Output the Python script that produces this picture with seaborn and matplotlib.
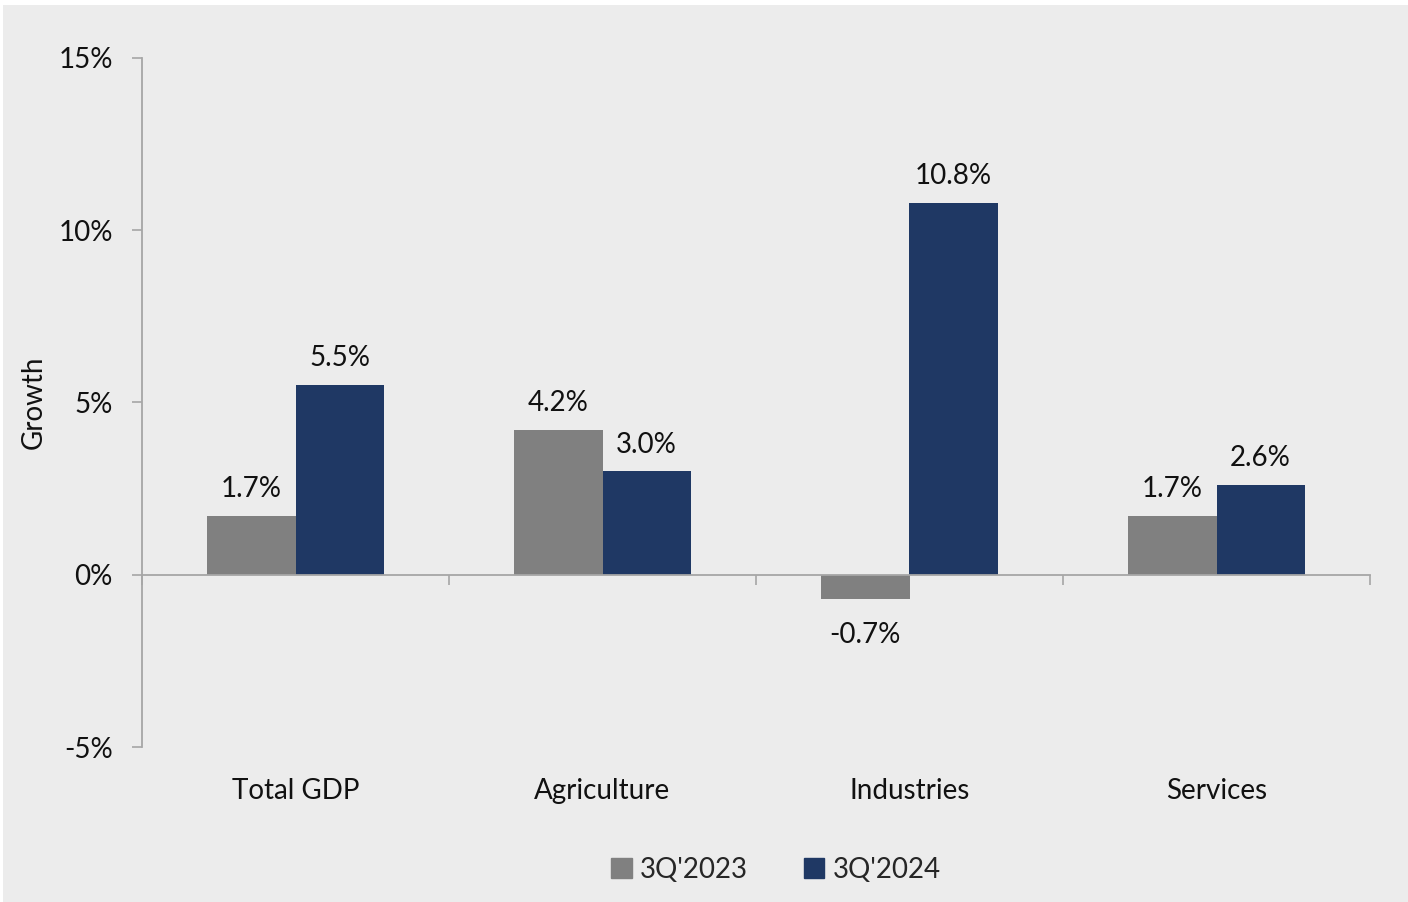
import matplotlib.pyplot as plt
import matplotlib.patches as mpatches
import pandas as pd
import seaborn as sns

# Data
categories = ['Total GDP', 'Agriculture', 'Industries', 'Services']
series = ["3Q'2023", "3Q'2024"]
growth_2023 = [1.7, 4.2, -0.7, 1.7]
growth_2024 = [5.5, 3.0, 10.8, 2.6]
y_ticks = [-5, 0, 5, 10, 15]

colors = ['#808080', '#1F3864']
bg = '#ECECEC'
axis_col = '#A6A6A6'
txt = '#111111'
fs = 20

df = pd.DataFrame({
    'category': categories * 2,
    'period': [series[0]] * 4 + [series[1]] * 4,
    'value': growth_2023 + growth_2024,
})

sns.set_style('white')
plt.rcParams['font.family'] = ['Lato', 'DejaVu Sans']

fig = plt.figure(figsize=(14.08, 9.02), dpi=100, facecolor='white')
# grey panel (small white margin at top / left)
fig.patches.append(mpatches.Rectangle((3 / 1408, 0), 1, 1 - 5 / 902,
                                      transform=fig.transFigure, facecolor=bg,
                                      edgecolor='none', zorder=-10))
ax = fig.add_axes([142 / 1408, (902 - 747) / 902, (1370 - 142) / 1408, (747 - 58) / 902])
ax.set_facecolor(bg)

sns.barplot(data=df, x='category', y='value', hue='period', palette=colors,
            width=0.575, ax=ax, saturation=1, legend=False,
            edgecolor='none', linewidth=0)

for cont in ax.containers:
    pos = [f'{v:.1f}%' if v >= 0 else '' for v in cont.datavalues]
    neg = [f'{v:.1f}%' if v < 0 else '' for v in cont.datavalues]
    ax.bar_label(cont, labels=pos, padding=10, fontsize=fs, color=txt)
    ax.bar_label(cont, labels=neg, padding=17, fontsize=fs, color=txt)

ax.set_xlim(-0.5, 3.5)
ax.set_ylim(-5, 15)
ax.set_yticks(y_ticks)
ax.set_yticklabels([f'{t}%' for t in y_ticks], fontsize=fs, color=txt)
ax.tick_params(axis='y', left=True, length=7, width=1.2, color=axis_col, pad=14)
ax.set_ylabel('Growth', fontsize=fs, color=txt, labelpad=8)
ax.set_xlabel('')

for s in ['top', 'right']:
    ax.spines[s].set_visible(False)
ax.spines['left'].set_color(axis_col)
ax.spines['left'].set_linewidth(1.3)
ax.spines['bottom'].set_position(('data', 0))
ax.spines['bottom'].set_color(axis_col)
ax.spines['bottom'].set_linewidth(1.3)

# boundary ticks on the zero line
ax.set_xticks([i - 0.5 for i in range(len(categories) + 1)])
ax.set_xticklabels([])
ax.tick_params(axis='x', bottom=True, length=7, width=1.2, color=axis_col, direction='out')

# category labels at the bottom
sec = ax.secondary_xaxis('bottom')
sec.set_xticks(range(len(categories)))
sec.set_xticklabels(categories, fontsize=fs, color=txt)
sec.tick_params(length=0, pad=22)
sec.spines['bottom'].set_visible(False)

handles = [mpatches.Patch(color=c, label=l) for c, l in zip(colors, series)]
fig.legend(handles=handles, loc='center', bbox_to_anchor=(0.551, 1 - 870 / 902),
           ncol=2, frameon=False, fontsize=fs, handlelength=0.75, handleheight=0.75,
           handletextpad=0.3, columnspacing=2.0)

fig.savefig('out.png', dpi=100, facecolor=fig.get_facecolor())
